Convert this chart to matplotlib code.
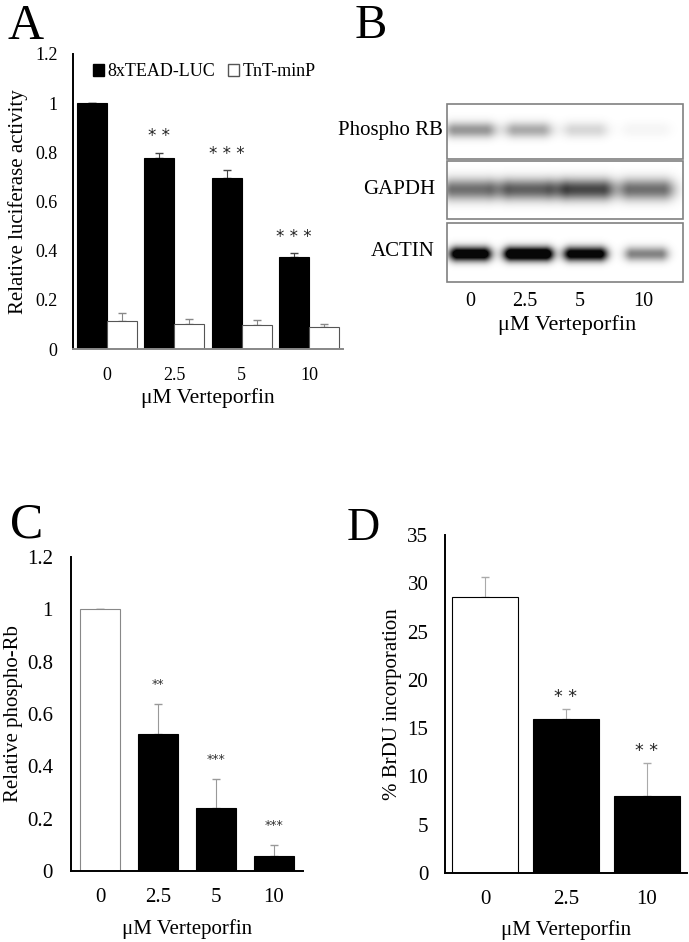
import numpy as np
import matplotlib.pyplot as plt
from matplotlib.patches import Patch, Rectangle

plt.rcParams['font.family'] = ['Liberation Serif', 'DejaVu Serif']

W, H = 689, 942

# ------------------ DATA ------------------

doses = ["0", "2.5", "5", "10"]

# panel A
tead = [1.0, 0.776, 0.695, 0.375]
tead_err = [0.0, 0.022, 0.032, 0.014]
tnt = [0.114, 0.10, 0.096, 0.088]
tnt_err = [0.032, 0.024, 0.02, 0.013]
stars_a = ["", "* *", "* * *", "* * *"]

# panel B band intensities (0..1)
blot_rows = ["Phospho RB", "GAPDH", "ACTIN"]
phospho_rb = [0.42, 0.34, 0.16, 0.04]
gapdh = [0.58, 0.64, 0.74, 0.58]
actin = [1.3, 1.4, 1.2, 0.5]

# panel C
phos_rel = [1.0, 0.524, 0.24, 0.057]
phos_err = [0.0, 0.115, 0.11, 0.043]
stars_c = ["", "**", "***", "***"]

# panel D
brdu_doses = ["0", "2.5", "10"]
brdu = [28.6, 15.9, 8.0]
brdu_err = [2.1, 1.1, 3.4]
stars_d = ["", "* *", "* *"]


def ax_px(x0, y0, x1, y1):
    return fig.add_axes([x0 / W, 1 - y1 / H, (x1 - x0) / W, (y1 - y0) / H])


def excel_axes(ax, ylim, yticks, tsize, ypad, xpad, xcolor="black"):
    ax.set_ylim(*ylim)
    ax.set_yticks(yticks)
    ax.set_yticklabels([("%g" % t) for t in yticks])
    for s in ["top", "right"]:
        ax.spines[s].set_visible(False)
    ax.spines["left"].set_linewidth(1.4)
    ax.spines["bottom"].set_linewidth(1.4)
    ax.spines["bottom"].set_color(xcolor)
    ax.tick_params(length=0, labelsize=tsize)
    ax.tick_params(axis="y", pad=ypad)
    ax.tick_params(axis="x", pad=xpad)


fig = plt.figure(figsize=(W / 100, H / 100), dpi=100)

# ------------------ A ------------------
ax = ax_px(73, 54, 343, 349)
x = np.arange(len(doses))
bw = 0.445
ax.bar(x - bw / 2, tead, bw, color="black", edgecolor="black", linewidth=0.8, zorder=2)
ax.bar(x + bw / 2, tnt, bw, color="white", edgecolor="#555555", linewidth=0.8, zorder=2)
ax.errorbar(x - bw / 2, tead, yerr=[np.zeros(4), tead_err], fmt="none",
            ecolor="#444444", elinewidth=0.8, capsize=3, zorder=1)
ax.errorbar(x + bw / 2, tnt, yerr=[np.zeros(4), tnt_err], fmt="none",
            ecolor="#888888", elinewidth=0.8, capsize=3, zorder=1)
for i, s in enumerate(stars_a):
    if s:
        ax.text(x[i] - bw / 2, tead[i] + tead_err[i] + 0.03, s, ha="center",
                va="bottom", fontsize=12, family="DejaVu Sans", color="#222222")
ax.set_xlim(-0.5, 3.5)
ax.set_xticks(x)
ax.set_xticklabels(doses)
excel_axes(ax, (0, 1.2), [0, 0.2, 0.4, 0.6, 0.8, 1.0, 1.2], 13, 11, 13, xcolor="#888888")
ax.set_xlabel("μM Verteporfin", fontsize=15.5, labelpad=3)
ax.set_ylabel("Relative luciferase activity", fontsize=15, labelpad=5)
handles = [Patch(facecolor="black", edgecolor="black", label="8xTEAD-LUC"),
           Patch(facecolor="white", edgecolor="#555555", label="TnT-minP")]
ax.legend(handles=handles, ncol=2, frameon=False, loc="center left",
          bbox_to_anchor=((93 - 73) / 270, (349 - 72) / 295), fontsize=13,
          handlelength=0.6, handleheight=0.6, handletextpad=0.2,
          columnspacing=0.7, borderpad=0, borderaxespad=0)
fig.text(8 / W, 1 - 39 / H, "A", fontsize=36)

# ------------------ B ------------------
bx = ax_px(447, 104, 683, 282)
bx.set_xlim(0, 236)
bx.set_ylim(178, 0)
bx.axis("off")
boxes = [(0, 55), (57, 115), (119, 178)]
band_rows = [phospho_rb, gapdh, actin]
lane_x = [23, 81, 138, 199]
half_w = [[15, 13, 12, 14], [17, 18, 17, 16], [13, 17, 14, 14]]
sig_x = [8, 9, 6]
sig_y = [5.5, 7.5, 5.0]
band_dy = [-2, -1, 1]
xx = np.arange(236)
for (y0, y1), vals, hw, sx, sy, dy in zip(boxes, band_rows, half_w, sig_x, sig_y, band_dy):
    yy = np.arange(y0, y1)[:, None]
    yc = (y0 + y1) / 2 + dy
    img = np.zeros((y1 - y0, 236))
    for lx, v, w in zip(lane_x, vals, hw):
        prof_x = np.exp(-np.clip(np.abs(xx - lx) - w, 0, None) ** 2 / (2 * sx ** 2))
        prof_y = np.exp(-(yy - yc) ** 2 / (2 * sy ** 2))
        img = img + v * prof_y * prof_x[None, :]
    img = np.clip(img, 0, 1)
    bx.imshow(1 - img * 0.97, cmap="gray", vmin=0, vmax=1, aspect="auto",
              extent=(0, 236, y1, y0), interpolation="bilinear")
    bx.add_patch(Rectangle((0, y0), 236, y1 - y0, fill=False, edgecolor="#808080",
                           linewidth=1.2, clip_on=False))
label_right = [443, 435, 435]
for (y0, y1), name, xr in zip(boxes, blot_rows, label_right):
    yc = 104 + (y0 + y1) / 2 - 1
    fig.text(xr / W, 1 - yc / H, name, ha="right", va="center", fontsize=15)
lane_lab_x = [470, 525, 580, 643]
for lx, d in zip(lane_lab_x, doses):
    fig.text(lx / W, 1 - 302 / H, d, ha="center", va="center", fontsize=14.5)
fig.text(567 / W, 1 - 325 / H, "μM Verteporfin", ha="center", va="center", fontsize=16)
fig.text(355 / W, 1 - 38 / H, "B", fontsize=35)

# ------------------ C ------------------
cx = ax_px(71, 557, 303, 871)
x = np.arange(len(doses))
cols = ["white", "black", "black", "black"]
cx.bar(x, phos_rel, 0.7, color=cols, edgecolor=["#888888", "black", "black", "black"],
       linewidth=0.8, zorder=2)
cx.errorbar(x, phos_rel, yerr=[np.zeros(4), phos_err], fmt="none",
            ecolor="#999999", elinewidth=0.8, capsize=3, zorder=1)
for i, s in enumerate(stars_c):
    if s:
        cx.text(x[i], phos_rel[i] + phos_err[i] + 0.05, s, ha="center",
                va="bottom", fontsize=9, color="#333333", family="DejaVu Sans")
cx.set_xlim(-0.5, 3.5)
cx.set_xticks(x)
cx.set_xticklabels(doses)
excel_axes(cx, (0, 1.2), [0, 0.2, 0.4, 0.6, 0.8, 1.0, 1.2], 15, 13, 12)
cx.set_xlabel("μM Verteporfin", fontsize=15, labelpad=9)
cx.set_ylabel("Relative phospho-Rb", fontsize=15, labelpad=3)
fig.text(10 / W, 1 - 537 / H, "C", fontsize=36)

# ------------------ D ------------------
dx = ax_px(445, 535, 687, 873)
x = np.arange(len(brdu_doses))
dx.bar(x, brdu, 0.82, color=["white", "black", "black"], edgecolor="black",
       linewidth=0.8, zorder=2)
dx.errorbar(x, brdu, yerr=[np.zeros(3), brdu_err], fmt="none",
            ecolor="#aaaaaa", elinewidth=0.8, capsize=3, zorder=1)
for i, s in enumerate(stars_d):
    if s:
        dx.text(x[i], brdu[i] + brdu_err[i] + 0.3, s, ha="center",
                va="bottom", fontsize=12.5, family="DejaVu Sans", color="#222222")
dx.set_xlim(-0.5, 2.5)
dx.set_xticks(x)
dx.set_xticklabels(brdu_doses)
excel_axes(dx, (0, 35), list(range(0, 36, 5)), 15, 12, 12)
dx.set_xlabel("μM Verteporfin", fontsize=15, labelpad=8)
dx.set_ylabel("% BrDU incorporation", fontsize=15, labelpad=4)
fig.text(347 / W, 1 - 540 / H, "D", fontsize=33)

fig.savefig("out.png", dpi=100)
